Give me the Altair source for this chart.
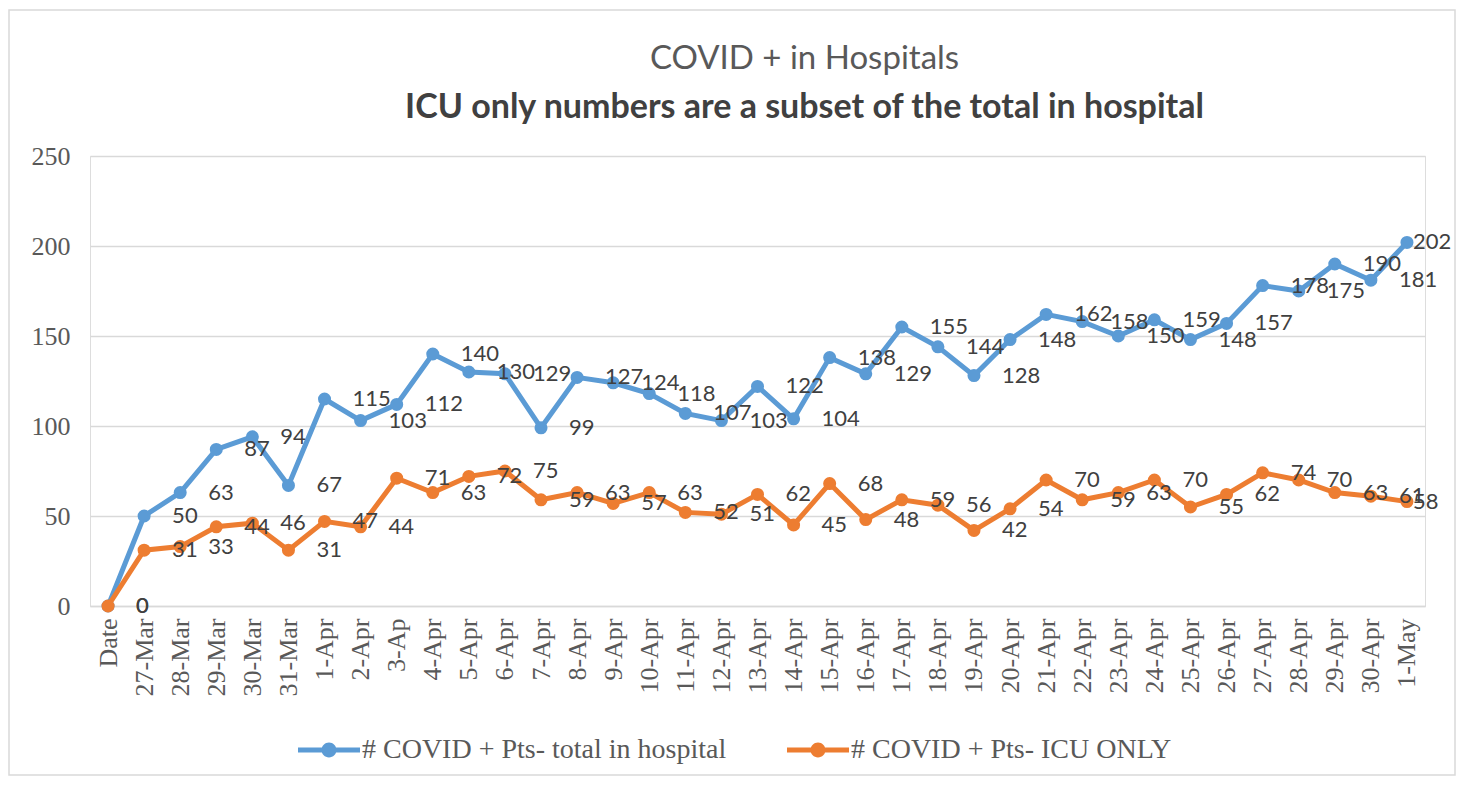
import altair as alt
import pandas as pd

dates = ["Date", "27-Mar", "28-Mar", "29-Mar", "30-Mar", "31-Mar",
         "1-Apr", "2-Apr", "3-Ap", "4-Apr", "5-Apr", "6-Apr", "7-Apr", "8-Apr",
         "9-Apr", "10-Apr", "11-Apr", "12-Apr", "13-Apr", "14-Apr", "15-Apr",
         "16-Apr", "17-Apr", "18-Apr", "19-Apr", "20-Apr", "21-Apr", "22-Apr",
         "23-Apr", "24-Apr", "25-Apr", "26-Apr", "27-Apr", "28-Apr", "29-Apr",
         "30-Apr", "1-May"]

total_in_hospital = [0, 50, 63, 87, 94, 67, 115, 103, 112, 140, 130, 129, 99, 127,
                     124, 118, 107, 103, 122, 104, 138, 129, 155, 144, 128, 148,
                     162, 158, 150, 159, 148, 157, 178, 175, 190, 181, 202]

icu_only = [0, 31, 33, 44, 46, 31, 47, 44, 71, 63, 72, 75, 59, 63, 57, 63, 52, 51,
            62, 45, 68, 48, 59, 56, 42, 54, 70, 59, 63, 70, 55, 62, 74, 70, 63, 61, 58]

series_names = ["# COVID + Pts- total in hospital", "# COVID + Pts- ICU ONLY"]
series_colors = ["#5B9BD5", "#ED7D31"]
y_ticks = [0, 50, 100, 150, 200, 250]

rows = []
for name, vals in zip(series_names, [total_in_hospital, icu_only]):
    for d, v in zip(dates, vals):
        rows.append({"date": d, "series": name, "value": v})
df = pd.DataFrame(rows)

W, H = 1335, 450

x_enc = alt.X("date:N", sort=dates,
              scale=alt.Scale(type="point", padding=0.5),
              axis=alt.Axis(title=None, labelAngle=-90, labelFont="Liberation Serif",
                            labelFontSize=26, labelColor="#595959", labelPadding=12,
                            ticks=False, tickSize=0, domain=True, domainColor="#d9d9d9",
                            domainWidth=1.5, grid=False, labelOverlap=False))
y_enc = alt.Y("value:Q", scale=alt.Scale(domain=[0, 250], nice=False),
              axis=alt.Axis(title=None, values=y_ticks, labelFont="Liberation Serif",
                            labelFontSize=26, labelColor="#595959", labelPadding=20,
                            ticks=False, tickSize=0, domain=False, grid=True,
                            gridColor="#d9d9d9", gridWidth=1.5))
color_scale = alt.Scale(domain=series_names, range=series_colors)

symbol_path = ("M-1,-0.08L1,-0.08L1,0.08L-1,0.08Z "
               "M-0.24,0A0.24,0.24 0 1,1 0.24,0A0.24,0.24 0 1,1 -0.24,0Z")

legend = alt.Legend(title=None, orient="none", direction="horizontal",
                    legendX=208, legendY=563, symbolType=symbol_path,
                    symbolSize=3844, symbolStrokeWidth=0, symbolOpacity=1,
                    labelFont="Liberation Serif", labelFontSize=28,
                    labelColor="#595959", labelOffset=2, labelLimit=800,
                    columnPadding=60, padding=0)

base = alt.Chart(df)

layers = []
for name, col in zip(series_names, series_colors):
    sub = base.transform_filter(alt.datum.series == name)
    layers.append(sub.mark_line(strokeWidth=5, color=col).encode(x=x_enc, y=y_enc))
    layers.append(sub.mark_point(filled=True, size=170, opacity=1).encode(
        x=x_enc, y=y_enc,
        color=alt.Color("series:N", scale=color_scale, legend=legend)))

labels = base.transform_filter(alt.datum.date != "1-May").mark_text(
    align="left", baseline="middle", dx=28, font="Lato", fontSize=22, color="#404040"
).encode(x=x_enc, y=y_enc, text="value:Q")

labels_last = base.transform_filter(alt.datum.date == "1-May").mark_text(
    align="left", baseline="middle", dx=6, font="Lato", fontSize=22, color="#404040"
).encode(x=x_enc, y=y_enc, text="value:Q")

border = alt.Chart(alt.Data(values=[{}])).mark_rect(
    fill=None, stroke="#d9d9d9", strokeWidth=1.5
).encode(x=alt.value(-81), x2=alt.value(1365), y=alt.value(-146), y2=alt.value(619))

chart = alt.layer(border, *layers, labels, labels_last).properties(
    width=W, height=H,
    autosize=alt.AutoSizeParams(type="none"),
    padding={"left": 82, "top": 148, "right": 32, "bottom": 170},
    title=alt.TitleParams(
        text="COVID + in Hospitals",
        subtitle="ICU  only numbers are a subset of the total in hospital",
        font="Lato", fontSize=33, fontWeight="normal", color="#595959",
        subtitleFont="Lato", subtitleFontSize=34, subtitleFontWeight="bold",
        subtitleColor="#404040", subtitlePadding=15,
        anchor="middle", dx=47, dy=138, offset=22,
    ),
).configure_view(stroke=None).configure(background="white")

chart.save("out.html", embed_options={"renderer": "svg", "actions": False})
